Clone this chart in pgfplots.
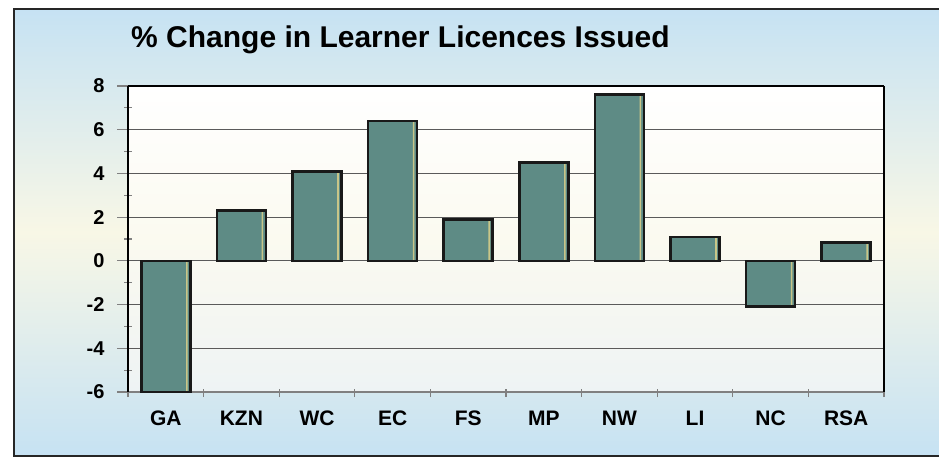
\documentclass[border=0pt]{standalone}
\usepackage{pgfplots}
\pgfplotsset{compat=1.18}
\usepackage{pgfplotstable}
\usepackage{fontspec}
\setmainfont{Liberation Sans}
\definecolor{barfill}{HTML}{5E8B85}
\definecolor{barhi}{HTML}{C9C688}
\definecolor{bgblue}{HTML}{C6E2F3}
\definecolor{bgcream}{HTML}{F8F7E6}
\definecolor{pablue}{HTML}{EEF3F4}
\definecolor{pacream}{HTML}{FBFAF0}
\definecolor{gridc}{HTML}{5A5A5A}
\pgfplotstableread{
x y
0 -6.0
1 2.3
2 4.1
3 6.4
4 1.9
5 4.5
6 7.6
7 1.1
8 -2.1
9 0.85
}\datatable
\begin{document}
\begin{tikzpicture}[x=1pt,y=1pt]
\useasboundingbox (0,0) rectangle (939,467);
\fill[white] (0,0) rectangle (939,467);
\shade[top color=bgblue, bottom color=bgblue, middle color=bgcream] (14,11) rectangle (939,458);
\draw[line width=2.5pt, color=black!85] (945,458) -- (14,458) -- (14,11) -- (945,11);
\node[anchor=base west, inner sep=0pt, font=\fontsize{30}{36}\selectfont\bfseries] at (131,419) {\% Change in Learner Licences Issued};
\begin{axis}[
  at={(128pt,75pt)}, anchor=south west,
  width=756pt, height=306pt, scale only axis,
  xmin=-0.5, xmax=9.5, ymin=-6, ymax=8,
  axis background/.style={top color=white, bottom color=pablue, middle color=pacream},
  xtick={0,...,9},
  xticklabels={GA,KZN,WC,EC,FS,MP,NW,LI,NC,RSA},
  major x tick style={draw=none},
  minor xtick={-0.5,0.5,...,9.5},
  minor x tick style={gray, line width=1.2pt, yshift=3pt},
  ytick={-6,-4,...,8},
  yticklabels={-6,-4,-2,0,2,4,6,8},
  minor ytick={-5,-3,...,7},
  minor y tick style={gray, line width=1.2pt, xshift=4pt},
  major y tick style={gray, line width=1.2pt},
  tick align=outside,
  major tick length=11pt,
  minor tick length=8pt,
  xtick pos=bottom, ytick pos=left,
  ymajorgrids,
  major grid style={gridc, line width=1.1pt},
  separate axis lines,
  x axis line style={draw=gray, line width=1.6pt},
  y axis line style={draw=black, line width=2.8pt},
  xticklabel style={font=\fontsize{21}{24}\selectfont\bfseries, anchor=base, yshift=-22pt},
  yticklabel style={font=\fontsize{20}{24}\selectfont\bfseries, xshift=-9pt},
  clip=false,
]
\addplot[ybar, bar width=49pt, bar shift=0pt, fill=barfill, draw=none] table[x=x,y=y] {\datatable};
\addplot[ybar, bar width=1.6pt, bar shift=21pt, fill=barhi, draw=none] table[x=x,y=y] {\datatable};
\addplot[ybar, bar width=49pt, bar shift=0pt, fill=none, draw=black!90, line width=2.6pt] table[x=x,y=y] {\datatable};
\draw[black, line width=2pt] (rel axis cs:0,1) -- (rel axis cs:1,1);
\draw[black, line width=2.8pt] (rel axis cs:1,1) -- (rel axis cs:1,0);
\end{axis}
\end{tikzpicture}
\end{document}
